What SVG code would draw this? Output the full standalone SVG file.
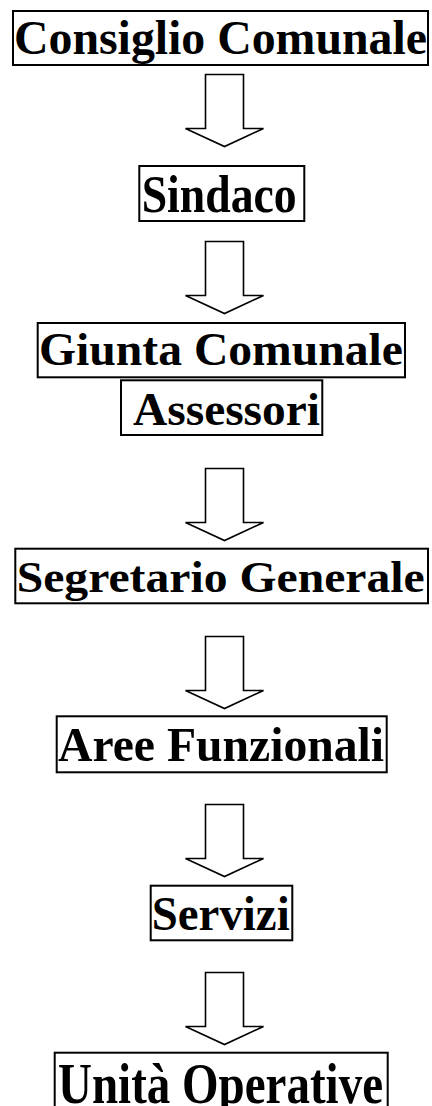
<svg xmlns="http://www.w3.org/2000/svg" width="432" height="1106" viewBox="0 0 432 1106">
<style>
.box{fill:none;stroke:#000;stroke-width:2}
.lbl{font-family:"Liberation Serif","Times New Roman",serif;font-weight:bold;fill:#000}
.arr{fill:#fff;stroke:#000;stroke-width:1.6;stroke-linejoin:miter}
</style>
<rect width="432" height="1106" fill="#fff"/>
<g id="connectors">
<path class="arr" d="M205.5,74.5V128.5H185.5L224.5,146.5L263.5,128.5H243.5V74.5Z"/>
<path class="arr" d="M205.5,241.5V295.5H185.5L224.5,313.5L263.5,295.5H243.5V241.5Z"/>
<path class="arr" d="M205.5,468.5V522.5H185.5L224.5,540.5L263.5,522.5H243.5V468.5Z"/>
<path class="arr" d="M205.5,636.5V690.5H185.5L224.5,708.5L263.5,690.5H243.5V636.5Z"/>
<path class="arr" d="M205.5,804.5V858.5H185.5L224.5,876.5L263.5,858.5H243.5V804.5Z"/>
<path class="arr" d="M205.5,972.5V1026.5H185.5L224.5,1044.5L263.5,1026.5H243.5V972.5Z"/>
</g>
<g id="consiglio">
<rect class="box" x="13" y="11" width="415" height="54"/>
<text class="lbl" x="14" y="54" font-size="48" textLength="413" lengthAdjust="spacingAndGlyphs">Consiglio Comunale</text>
</g>
<g id="sindaco">
<rect class="box" x="139.3" y="166" width="165" height="55"/>
<text class="lbl" x="141.7" y="211.5" font-size="52" textLength="155" lengthAdjust="spacingAndGlyphs">Sindaco</text>
</g>
<g id="giunta">
<rect class="box" x="37.7" y="323" width="367.3" height="54.3"/>
<text class="lbl" x="39" y="365" font-size="47" textLength="364" lengthAdjust="spacingAndGlyphs">Giunta Comunale</text>
</g>
<g id="assessori">
<rect class="box" x="121" y="380.3" width="201.3" height="54.7"/>
<text class="lbl" x="133" y="425" font-size="46" textLength="187" lengthAdjust="spacingAndGlyphs">Assessori</text>
</g>
<g id="segretario">
<rect class="box" x="15.3" y="548.7" width="412.7" height="54.6"/>
<text class="lbl" x="16.7" y="591.7" font-size="45" textLength="408" lengthAdjust="spacingAndGlyphs">Segretario Generale</text>
</g>
<g id="aree">
<rect class="box" x="56.7" y="716.3" width="330" height="56"/>
<text class="lbl" x="58" y="761" font-size="49" textLength="326" lengthAdjust="spacingAndGlyphs">Aree Funzionali</text>
</g>
<g id="servizi">
<rect class="box" x="150.7" y="885.7" width="141.6" height="54.6"/>
<text class="lbl" x="151.7" y="930" font-size="48" textLength="138" lengthAdjust="spacingAndGlyphs">Servizi</text>
</g>
<g id="unita">
<rect class="box" x="54.7" y="1052.7" width="333" height="60"/>
<text class="lbl" x="58" y="1103" font-size="56" textLength="325" lengthAdjust="spacingAndGlyphs">Unità Operative</text>
</g>
</svg>
